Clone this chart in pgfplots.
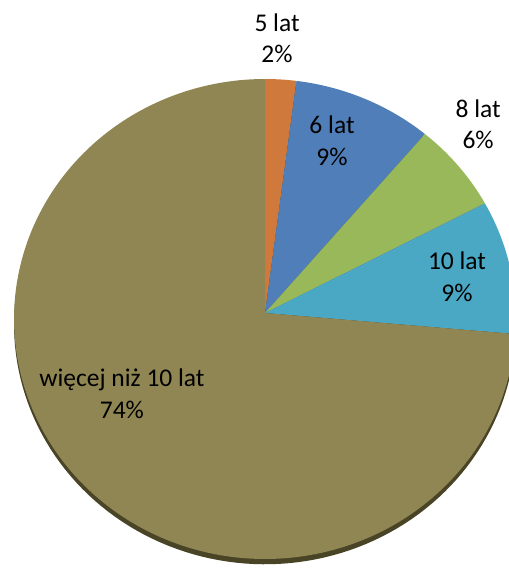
\documentclass[border=0pt]{standalone}
\usepackage{pgfplots}
\pgfplotsset{compat=1.18}
\usepackage{pgfplotstable}
\usepackage{fontspec}
\setmainfont{Carlito}

\definecolor{cfive}{HTML}{CF7A3C}
\definecolor{csix}{HTML}{4F7EB8}
\definecolor{ceight}{HTML}{98B85A}
\definecolor{cten}{HTML}{4AA8C4}
\definecolor{cmore}{HTML}{8F8653}
\definecolor{cedge}{HTML}{4A4427}

% shares in percent, clockwise from 12 o'clock
\pgfplotstableread{
label share
5lat 2
6lat 9
8lat 6
10lat 9
more 74
}\piedata

\begin{document}
\begin{tikzpicture}[x=1pt,y=1pt,
    lbl/.style={align=center, text=black, font=\fontsize{25.5}{31.5}\selectfont}]
\pgfplotstablegetelem{0}{share}\of\piedata\let\sA\pgfplotsretval
\pgfplotstablegetelem{1}{share}\of\piedata\let\sB\pgfplotsretval
\pgfplotstablegetelem{2}{share}\of\piedata\let\sC\pgfplotsretval
\pgfplotstablegetelem{3}{share}\of\piedata\let\sD\pgfplotsretval
\pgfplotstablegetelem{4}{share}\of\piedata\let\sE\pgfplotsretval
\pgfmathsetmacro\tA{90}
\pgfmathsetmacro\tB{\tA-3.6*\sA}
\pgfmathsetmacro\tC{\tB-3.6*\sB}
\pgfmathsetmacro\tD{\tC-3.6*\sC}
\pgfmathsetmacro\tE{\tD-3.6*\sD}
\pgfmathsetmacro\tF{\tE-3.6*\sE}
\begin{axis}[
    at={(265pt,249pt)}, anchor=origin,
    scale only axis, width=502pt, height=480pt,
    xmin=-1, xmax=1, ymin=-1, ymax=1,
    hide axis, clip=false,
    every axis plot/.append style={draw=none, variable=\t},
]
% dark rim under the pie
\addplot[fill=cedge, domain=0:360, samples=180] ({cos(t)},{sin(t)-0.022});
% slices meet a little above the middle, as in the tilted original
\addplot[fill=cfive, domain=\tB:\tA, samples=10] ({cos(t)},{sin(t)}) -- (axis cs:0,0.025) -- cycle;
\addplot[fill=csix, domain=\tC:\tB, samples=30] ({cos(t)},{sin(t)}) -- (axis cs:0,0.025) -- cycle;
\addplot[fill=ceight, domain=\tD:\tC, samples=25] ({cos(t)},{sin(t)}) -- (axis cs:0,0.025) -- cycle;
\addplot[fill=cten, domain=\tE:\tD, samples=30] ({cos(t)},{sin(t)}) -- (axis cs:0,0.025) -- cycle;
\addplot[fill=cmore, domain=\tF:\tE, samples=180] ({cos(t)},{sin(t)}) -- (axis cs:0,0.025) -- cycle;

\node[lbl] at (axis cs:0.048,1.169) {5 lat\\2\%};
\node[lbl] at (axis cs:0.267,0.742) {6 lat\\9\%};
\node[lbl] at (axis cs:0.849,0.812) {8 lat\\6\%};
\node[lbl] at (axis cs:0.765,0.175) {10 lat\\9\%};
\node[lbl] at (axis cs:-0.570,-0.312) {więcej niż 10 lat\\74\%};
\end{axis}
\pgfresetboundingbox
\path[use as bounding box] (0,0) rectangle (509,568);
\end{tikzpicture}
\end{document}
